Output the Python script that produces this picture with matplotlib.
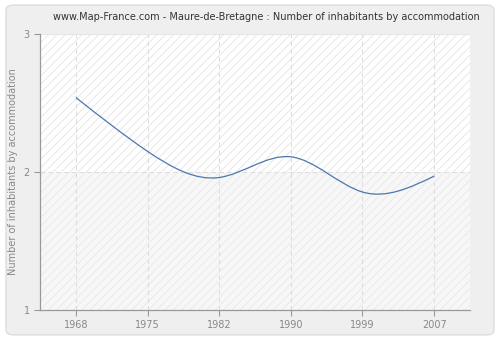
import numpy as np
import matplotlib

matplotlib.use("Agg")
import matplotlib.pyplot as plt
from matplotlib.patches import FancyBboxPatch, Rectangle, PathPatch
from matplotlib.path import Path

years = ["1968", "1975", "1982", "1990", "1999", "2007"]
inhabitants = [2.54, 2.15, 1.96, 2.11, 1.855, 1.97]

title = "www.Map-France.com - Maure-de-Bretagne : Number of inhabitants by accommodation"
ylabel = "Number of inhabitants by accommodation"


def spline_path(xs, ys):
    """Natural cubic spline through the points, written as bezier segments."""
    xs = np.asarray(xs, float)
    ys = np.asarray(ys, float)
    n = len(xs)
    h = np.diff(xs)
    A = np.zeros((n, n))
    b = np.zeros(n)
    A[0, 0] = A[-1, -1] = 1
    for i in range(1, n - 1):
        A[i, i - 1] = h[i - 1]
        A[i, i] = 2 * (h[i - 1] + h[i])
        A[i, i + 1] = h[i]
        b[i] = 3 * ((ys[i + 1] - ys[i]) / h[i] - (ys[i] - ys[i - 1]) / h[i - 1])
    c = np.linalg.solve(A, b)
    verts = [(xs[0], ys[0])]
    codes = [Path.MOVETO]
    for i in range(n - 1):
        d = (ys[i + 1] - ys[i]) / h[i] - h[i] * (2 * c[i] + c[i + 1]) / 3
        d1 = d + 2 * c[i] * h[i] + (c[i + 1] - c[i]) * h[i]
        verts += [
            (xs[i] + h[i] / 3, ys[i] + d * h[i] / 3),
            (xs[i + 1] - h[i] / 3, ys[i + 1] - d1 * h[i] / 3),
            (xs[i + 1], ys[i + 1]),
        ]
        codes += [Path.CURVE4] * 3
    return Path(verts, codes)


plt.rcParams["hatch.linewidth"] = 0.6

fig = plt.figure(figsize=(5, 3.4), dpi=100)
fig.patch.set_facecolor("white")
fig.patches.append(
    FancyBboxPatch(
        (0.012, 0.015), 0.976, 0.97,
        boxstyle="round,pad=0,rounding_size=0.015",
        transform=fig.transFigure, facecolor="#efefef", edgecolor="#dddddd",
        linewidth=1, zorder=-10,
    )
)

ax = fig.add_axes([0.08, 0.0882, 0.86, 0.8118])
ax.set_facecolor("none")
x = np.arange(len(years))
ax.set_xlim(-0.5, len(years) - 0.5)
ax.set_ylim(1, 3)

# backgrounds: white above 2, light grey below, both with faint hatch
ax.add_patch(Rectangle((-0.5, 2), len(years), 1, facecolor="white",
                       edgecolor="#e4e4e4", hatch="////", linewidth=0, zorder=0))
ax.add_patch(Rectangle((-0.5, 1), len(years), 1, facecolor="#f7f7f7",
                       edgecolor="#e8e8e8", hatch="////", linewidth=0, zorder=0))

for xi in x:
    ax.axvline(xi, color="#dddddd", linestyle=(0, (4, 3)), linewidth=0.8, zorder=1)
ax.axhline(2, color="#dddddd", linestyle=(0, (4, 3)), linewidth=0.8, zorder=1)
ax.axhline(3, color="#e6e6e6", linewidth=0.8, zorder=1)

ax.add_patch(PathPatch(spline_path(x, inhabitants), facecolor="none",
                       edgecolor="#4a78b0", linewidth=0.9, zorder=3))

ax.set_xticks(x)
ax.set_xticklabels(years)
ax.set_yticks([1, 2, 3])
ax.tick_params(colors="#999999", labelcolor="#888888", labelsize=7, length=4, width=0.8)
for side in ["top", "right"]:
    ax.spines[side].set_visible(False)
for side in ["left", "bottom"]:
    ax.spines[side].set_color("#999999")
    ax.spines[side].set_linewidth(0.9)

ax.set_ylabel(ylabel, color="#888888", fontsize=7)
fig.text(0.532, 0.95, title, ha="center", va="center", fontsize=7, color="#333333")

fig.savefig("out.png", dpi=100)
